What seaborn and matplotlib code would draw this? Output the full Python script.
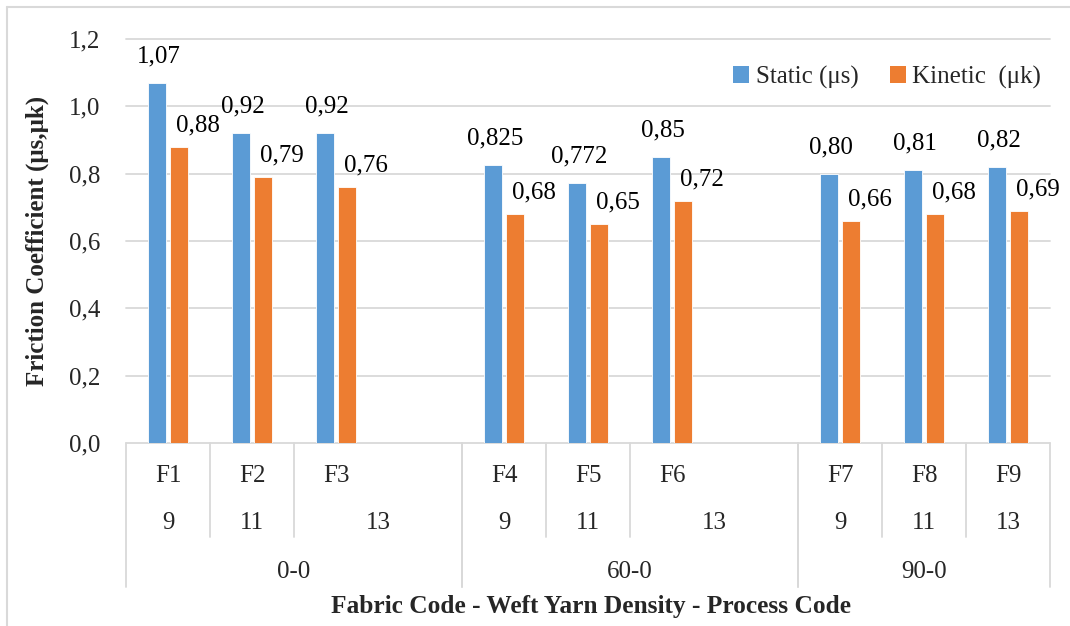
import matplotlib
matplotlib.use("Agg")
import matplotlib.pyplot as plt
import matplotlib.transforms as mtransforms
from matplotlib.patches import Patch
from matplotlib.lines import Line2D
import seaborn as sns
import pandas as pd

# ---------------- data ----------------
fabric = ["F1", "F2", "F3", "F4", "F5", "F6", "F7", "F8", "F9"]
weft_density = ["9", "11", "13", "9", "11", "13", "9", "11", "13"]
process = ["0-0", "0-0", "0-0", "60-0", "60-0", "60-0", "90-0", "90-0", "90-0"]
static = [1.07, 0.92, 0.92, 0.825, 0.772, 0.85, 0.80, 0.81, 0.82]
kinetic = [0.88, 0.79, 0.76, 0.68, 0.65, 0.72, 0.66, 0.68, 0.69]
static_labels = ["1,07", "0,92", "0,92", "0,825", "0,772", "0,85", "0,80", "0,81", "0,82"]
kinetic_labels = ["0,88", "0,79", "0,76", "0,68", "0,65", "0,72", "0,66", "0,68", "0,69"]
series_names = ["Static (μs)", "Kinetic  (μk)"]
yticks = [0.0, 0.2, 0.4, 0.6, 0.8, 1.0, 1.2]
ytick_labels = ["0,0", "0,2", "0,4", "0,6", "0,8", "1,0", "1,2"]
ylabel = "Friction Coefficient (μs,μk)"
xlabel = "Fabric Code - Weft Yarn Density - Process Code"

# ---------------- style ----------------
sns.set_style("white")
plt.rcParams["font.family"] = ["Liberation Serif", "DejaVu Serif"]
FS = 18
BLUE = "#5B9BD5"
ORANGE = "#ED7D31"
GRID = "#D9D9D9"
W, H = 1070, 626

df = pd.DataFrame({
    "fabric": fabric * 2,
    "series": [series_names[0]] * 9 + [series_names[1]] * 9,
    "value": static + kinetic,
})

# category order with an empty slot between process groups
groups = list(dict.fromkeys(process))
order = []
for gi, g in enumerate(groups):
    order += [f for f, p in zip(fabric, process) if p == g]
    if gi < len(groups) - 1:
        order.append(" " * (gi + 1))

fig = plt.figure(figsize=(W / 100, H / 100), dpi=100)
ax = fig.add_axes([126 / W, 183 / H, 924 / W, 404 / H])

sns.barplot(data=df, x="fabric", y="value", hue="series", order=order,
            hue_order=series_names, palette=[BLUE, ORANGE], width=0.54, gap=0.2,
            errorbar=None, saturation=1, legend=False, edgecolor="white",
            linewidth=0.6, ax=ax)

ax.set_xlim(-0.5, len(order) - 0.5)
ax.set_ylim(0, 1.2)
ax.set_yticks(yticks)
ax.set_yticklabels(ytick_labels, fontsize=FS)
ax.tick_params(axis="y", length=0, pad=18.5)
ax.set_xticks([])
ax.set_xlabel("")
ax.set_ylabel("")
for s in ax.spines.values():
    s.set_visible(False)
ax.yaxis.grid(True, color=GRID, linewidth=1.3)
for gl in ax.get_ygridlines():
    gl.set_clip_on(False)
ax.set_axisbelow(True)

# ---------------- data labels ----------------
lab_lookup = [dict(zip(fabric, static_labels)), dict(zip(fabric, kinetic_labels))]
offsets = [(1.5, 19.0), (13.5, 15.5)]  # points (dx, dy) for static / kinetic
for si, cont in enumerate(ax.containers):
    for p in cont.patches:
        h = p.get_height()
        if h != h or h == 0:
            continue
        xc = p.get_x() + p.get_width() / 2
        cat = order[int(round(xc))]
        ax.annotate(lab_lookup[si][cat], (xc, h), xytext=offsets[si],
                    textcoords="offset points", ha="center", va="center",
                    fontsize=FS, color="#000000", annotation_clip=False)

# ---------------- multi-level category axis ----------------
tr = mtransforms.blended_transform_factory(ax.transData, fig.transFigure)
y_axis = 1 - 443 / H
y_row1 = 1 - 476 / H
y_row2 = 1 - 523 / H
y_row3 = 1 - 572 / H
y_inner_end = 1 - 537 / H
y_outer_end = 1 - 587 / H

idx = {f: order.index(f) for f in fabric}
group_spans = []
for gi, g in enumerate(groups):
    members = [f for f, p in zip(fabric, process) if p == g]
    start = idx[members[0]] - 0.5
    if gi < len(groups) - 1:
        nxt = [f for f, p in zip(fabric, process) if p == groups[gi + 1]][0]
        end = idx[nxt] - 0.5
    else:
        end = len(order) - 0.5
    group_spans.append((g, start, end, members))

for g, start, end, members in group_spans:
    for xb in (start, end):
        ax.add_line(Line2D([xb, xb], [y_axis, y_outer_end], transform=tr,
                           color=GRID, linewidth=1.3, clip_on=False))
    ax.text((start + end) / 2, y_row3, g, transform=tr, ha="center",
            va="center", fontsize=FS)
    for k, f in enumerate(members):
        cs = idx[f] - 0.5
        ce = idx[members[k + 1]] - 0.5 if k + 1 < len(members) else end
        if k + 1 < len(members):
            ax.add_line(Line2D([ce, ce], [y_axis, y_inner_end], transform=tr,
                               color=GRID, linewidth=1.3, clip_on=False))
        ax.text(idx[f], y_row1, f, transform=tr, ha="center", va="center",
                fontsize=FS)
        ax.text((cs + ce) / 2, y_row2, weft_density[fabric.index(f)],
                transform=tr, ha="center", va="center", fontsize=FS)

# ---------------- titles ----------------
fig.text(37 / W, 1 - 241 / H, ylabel, rotation=90, ha="center", va="center",
         fontsize=FS, fontweight="bold")
fig.text(591 / W, 1 - 606 / H, xlabel, ha="center", va="center",
         fontsize=18.3, fontweight="bold")

# ---------------- legend ----------------
handles = [Patch(facecolor=BLUE, edgecolor="none"),
           Patch(facecolor=ORANGE, edgecolor="none")]
fig.legend(handles, series_names, loc="center left",
           bbox_to_anchor=(733 / W, 1 - 77 / H), ncol=2, frameon=False,
           fontsize=FS, handlelength=0.65, handleheight=0.65,
           handletextpad=0.25, columnspacing=1.25, borderpad=0,
           borderaxespad=0)

# ---------------- outer border ----------------
fig.add_artist(Line2D([7 / W, 1.0], [1 - 7 / H, 1 - 7 / H],
                      transform=fig.transFigure, color=GRID, linewidth=1.5))
fig.add_artist(Line2D([7 / W, 7 / W], [1 - 7 / H, 0.0],
                      transform=fig.transFigure, color=GRID, linewidth=1.5))

fig.savefig("out.png", dpi=100)
